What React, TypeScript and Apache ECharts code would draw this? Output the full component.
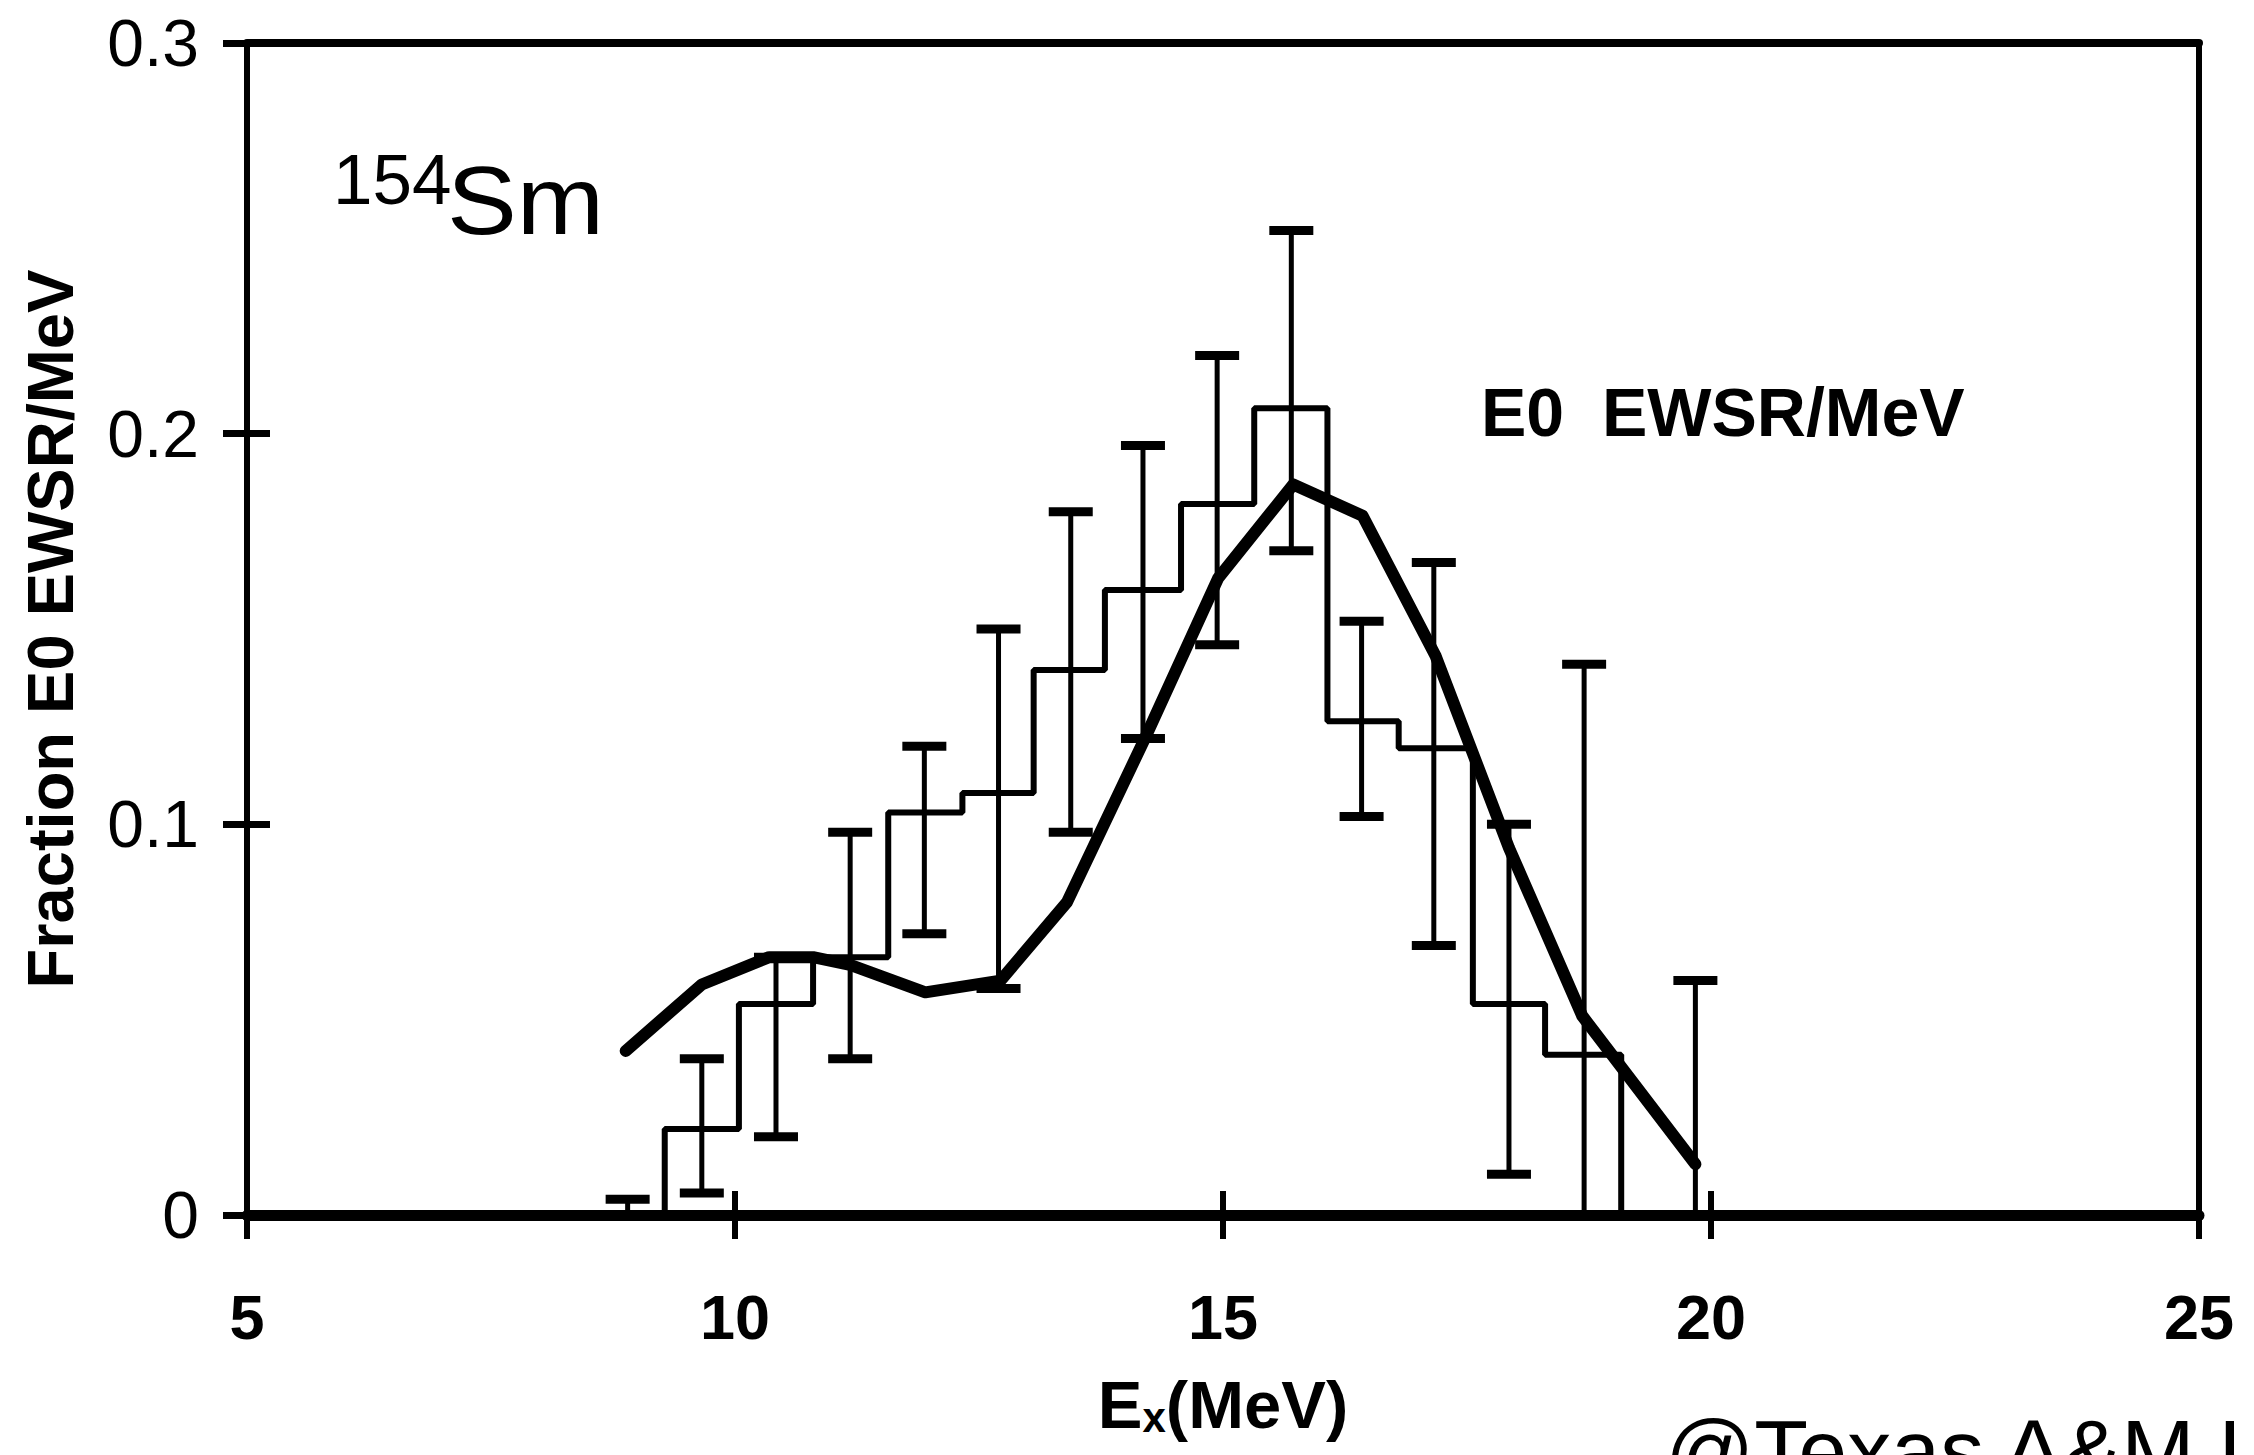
import React, { useEffect, useRef } from "react";
import * as echarts from "echarts";

// Axis scale
const xMin = 5;
const xMax = 25;
const xStep = 5;
const yMin = 0;
const yMax = 0.3;
const yStep = 0.1;

// Histogram: bin edges (MeV) and fraction per bin
const binEdges = [9.28, 10.04, 10.8, 11.57, 12.33, 13.06, 13.79, 14.57, 15.32, 16.07, 16.8, 17.56, 18.3, 19.08];
const binValues = [0.022, 0.054, 0.066, 0.103, 0.108, 0.1395, 0.16, 0.182, 0.2065, 0.1264, 0.1195, 0.054, 0.041];

// Error bars: position, lower and upper limits
const errX = [8.9, 9.66, 10.42, 11.18, 11.94, 12.7, 13.44, 14.18, 14.94, 15.7, 16.42, 17.16, 17.93, 18.7, 19.84];
const errLo = [0, 0.0056, 0.02, 0.04, 0.072, 0.058, 0.098, 0.122, 0.146, 0.17, 0.102, 0.069, 0.0104, 0, 0];
const errHi = [0.004, 0.04, 0.066, 0.098, 0.12, 0.15, 0.18, 0.197, 0.22, 0.252, 0.152, 0.167, 0.1, 0.141, 0.06];

// Smooth strength curve
const fitX = [8.88, 9.66, 10.35, 10.8, 11.18, 11.95, 12.72, 13.4, 14.2, 14.95, 15.72, 16.43, 17.18, 17.93, 18.68, 19.84];
const fitY = [0.042, 0.059, 0.066, 0.066, 0.064, 0.057, 0.06, 0.08, 0.122, 0.163, 0.187, 0.179, 0.143, 0.094, 0.051, 0.013];

const INK = "#000";
const SANS = "Liberation Sans";

export default function App() {
  const ref = useRef<HTMLDivElement>(null);

  useEffect(() => {
    if (!ref.current) return;
    const chart = echarts.init(ref.current, null, { renderer: "svg" });

    const steps: [number, number][] = [[binEdges[0], 0]];
    binValues.forEach((v, i) => {
      steps.push([binEdges[i], v], [binEdges[i + 1], v]);
    });
    steps.push([binEdges[binEdges.length - 1], 0]);

    const errData = errX.map((x, i) => [x, errLo[i], errHi[i]]);
    const fitData = fitX.map((x, i) => [x, fitY[i]]);

    const hiddenAxisParts = {
      axisLabel: { show: false },
      splitLine: { show: false },
    };

    chart.setOption({
      animation: false,
      backgroundColor: "#fff",
      grid: { left: 247, right: 55, top: 43, bottom: 240, containLabel: false },
      xAxis: [
        {
          type: "value",
          min: xMin,
          max: xMax,
          interval: xStep,
          position: "bottom",
          axisLine: { onZero: false, lineStyle: { color: INK, width: 11 } },
          axisTick: { length: 24, lineStyle: { color: INK, width: 6 } },
          axisLabel: {
            margin: 70,
            color: INK,
            fontFamily: SANS,
            fontWeight: "bold",
            fontSize: 63,
          },
          splitLine: { show: false },
          name: "{e|E}{s|x}{e|(MeV)}",
          nameLocation: "middle",
          nameGap: 156,
          nameTextStyle: {
            rich: {
              e: { fontFamily: SANS, fontWeight: "bold", fontSize: 67, color: INK },
              s: {
                fontFamily: SANS,
                fontWeight: "bold",
                fontSize: 42,
                color: INK,
                verticalAlign: "bottom",
                lineHeight: 14,
              },
            },
          },
        },
        {
          type: "value",
          min: xMin,
          max: xMax,
          interval: xStep,
          position: "bottom",
          axisLine: { show: false, onZero: false },
          axisTick: { inside: true, length: 24, lineStyle: { color: INK, width: 6 } },
          ...hiddenAxisParts,
        },
        {
          type: "value",
          min: xMin,
          max: xMax,
          interval: xStep,
          position: "top",
          axisLine: { onZero: false, lineStyle: { color: INK, width: 8 } },
          axisTick: { show: false },
          ...hiddenAxisParts,
        },
      ],
      yAxis: [
        {
          type: "value",
          min: yMin,
          max: yMax,
          interval: yStep,
          position: "left",
          axisLine: { onZero: false, lineStyle: { color: INK, width: 6 } },
          axisTick: { length: 24, lineStyle: { color: INK, width: 7 } },
          axisLabel: { margin: 48, color: INK, fontFamily: SANS, fontSize: 66 },
          splitLine: { show: false },
          name: "Fraction E0 EWSR/MeV",
          nameLocation: "middle",
          nameRotate: 90,
          nameGap: 164,
          nameTextStyle: { fontFamily: SANS, fontWeight: "bold", fontSize: 65, color: INK },
        },
        {
          type: "value",
          min: yMin,
          max: yMax,
          interval: yStep,
          position: "left",
          axisLine: { show: false, onZero: false },
          axisTick: { inside: true, length: 23, lineStyle: { color: INK, width: 7 } },
          ...hiddenAxisParts,
        },
        {
          type: "value",
          min: yMin,
          max: yMax,
          interval: yStep,
          position: "right",
          axisLine: { onZero: false, lineStyle: { color: INK, width: 6 } },
          axisTick: { show: false },
          ...hiddenAxisParts,
        },
      ],
      series: [
        {
          name: "histogram",
          type: "line",
          data: steps,
          symbol: "none",
          lineStyle: { color: INK, width: 6 },
          z: 3,
        },
        {
          name: "errors",
          type: "custom",
          data: errData,
          encode: { x: 0, y: [1, 2] },
          z: 4,
          renderItem: (_params: any, api: any) => {
            const x = api.value(0);
            const top = api.coord([x, api.value(2)]);
            const bot = api.coord([x, api.value(1)]);
            const half = 22;
            const stem = { stroke: INK, lineWidth: 5 };
            const cap = { stroke: INK, lineWidth: 9 };
            return {
              type: "group",
              children: [
                { type: "line", shape: { x1: top[0], y1: top[1], x2: bot[0], y2: bot[1] }, style: stem },
                { type: "line", shape: { x1: top[0] - half, y1: top[1], x2: top[0] + half, y2: top[1] }, style: cap },
                { type: "line", shape: { x1: bot[0] - half, y1: bot[1], x2: bot[0] + half, y2: bot[1] }, style: cap },
              ],
            };
          },
        },
        {
          name: "fit",
          type: "line",
          data: fitData,
          symbol: "none",
          smooth: false,
          lineStyle: { color: INK, width: 12, cap: "round", join: "round" },
          z: 5,
        },
      ],
      graphic: [
        {
          type: "text",
          x: 333,
          y: 144,
          style: { text: "154", font: `71px "${SANS}"`, fill: INK, textVerticalAlign: "top" },
        },
        {
          type: "text",
          x: 447,
          y: 152,
          scaleX: 1.08,
          style: { text: "Sm", font: `97px "${SANS}"`, fill: INK, textVerticalAlign: "top" },
        },
        {
          type: "text",
          x: 1481,
          y: 378,
          style: { text: "E0  EWSR/MeV", font: `bold 68px "${SANS}"`, fill: INK, textVerticalAlign: "top" },
        },
        {
          type: "text",
          x: 1665,
          y: 1406,
          style: { text: "@Texas A&M U", font: `88px "${SANS}"`, fill: INK, textVerticalAlign: "top" },
        },
      ],
    });

    return () => chart.dispose();
  }, []);

  return (
    <div
      ref={ref}
      style={{ position: "absolute", left: 0, top: 0, width: 2254, height: 1455, background: "#fff" }}
    />
  );
}
